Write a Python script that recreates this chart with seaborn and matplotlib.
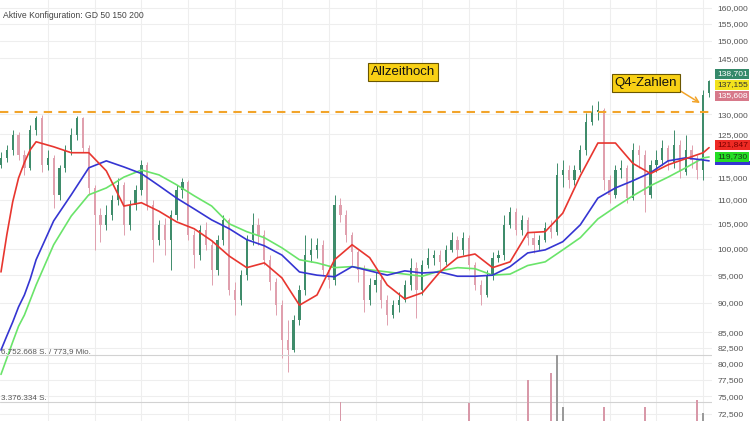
import matplotlib
matplotlib.use("Agg")
import matplotlib.pyplot as plt
import matplotlib.transforms as mtransforms
from matplotlib.patches import Rectangle
from matplotlib.ticker import FixedLocator, FuncFormatter, NullLocator
import seaborn as sns
import pandas as pd

# daily-ish candles, prices in thousand
open_ = [117.8, 119.4, 121.3, 124.9, 120.1, 117.1, 126.1, 129.1, 117.8, 119.4,
         111.1, 117.1, 121.3, 124.9, 129.1, 121.8, 112.6, 106.8, 104.8, 106.8,
         110.0, 113.3, 104.8, 108.9, 112.2, 117.8, 108.9, 101.8, 104.8, 101.8,
         106.8, 112.2, 114.0, 102.8, 98.8, 103.8, 100.8, 96.0, 101.8, 105.8,
         92.3, 90.5, 95.0, 101.8, 104.8, 102.8, 97.9, 93.8, 89.6, 83.7,
         82.1, 87.1, 92.3, 98.8, 99.8, 100.8, 96.0, 94.1, 108.9, 106.8,
         102.8, 99.4, 96.0, 90.5, 93.2, 94.1, 90.5, 87.9, 89.6, 90.5,
         93.2, 96.4, 92.3, 96.9, 98.3, 98.8, 97.5, 99.8, 101.8, 99.8,
         102.2, 96.9, 93.2, 91.4, 95.0, 98.3, 98.8, 104.8, 107.4, 103.8,
         105.8, 102.2, 100.8, 101.8, 104.2, 103.4, 115.5, 116.6, 114.4, 116.6,
         121.3, 128.1, 130.6, 131.1, 114.4, 111.1, 116.6, 117.1, 110.4, 121.3,
         120.1, 111.1, 117.8, 118.9, 121.8, 118.5, 122.5, 116.2, 121.3, 118.9,
         116.6, 135.6]
high = [120.8, 122.5, 126.1, 125.5, 121.3, 127.3, 129.6, 129.8, 121.3, 120.1,
        117.8, 122.5, 126.6, 129.6, 129.3, 122.5, 113.3, 108.3, 108.9, 111.1,
        114.8, 114.0, 110.0, 113.3, 118.9, 118.5, 110.0, 105.8, 106.2, 107.9,
        113.3, 114.8, 114.4, 103.8, 104.8, 105.4, 101.8, 102.8, 106.8, 106.2,
        93.8, 96.0, 102.8, 107.2, 106.2, 103.8, 98.8, 94.5, 90.5, 87.1,
        87.9, 93.2, 102.8, 102.2, 102.2, 101.8, 96.9, 111.1, 110.4, 107.9,
        103.4, 99.8, 96.9, 94.5, 95.6, 95.0, 91.4, 90.5, 91.9, 94.1,
        98.3, 97.5, 97.9, 100.2, 99.8, 99.8, 100.8, 103.4, 102.6, 103.4,
        102.8, 97.5, 94.1, 96.0, 99.4, 99.8, 106.8, 108.5, 108.3, 106.8,
        106.4, 103.4, 102.8, 105.4, 105.8, 118.1, 118.9, 117.8, 117.8, 122.5,
        130.3, 132.4, 133.4, 131.6, 115.5, 117.8, 118.9, 117.8, 122.9, 122.5,
        121.3, 118.9, 121.3, 123.6, 122.5, 126.1, 123.6, 124.9, 122.5, 120.1,
        136.3, 139.0]
low = [117.1, 118.5, 120.1, 118.9, 115.5, 116.6, 124.9, 116.2, 116.6, 108.3,
       110.0, 116.2, 120.1, 123.6, 120.8, 111.1, 99.8, 101.4, 103.8, 105.8,
       108.9, 102.8, 103.8, 107.9, 111.1, 107.9, 97.5, 100.8, 98.8, 96.0,
       105.8, 110.4, 101.8, 96.4, 97.9, 99.8, 93.2, 95.0, 100.8, 91.4,
       87.9, 89.6, 94.1, 100.8, 100.8, 96.9, 92.3, 87.9, 80.8, 78.6,
       81.8, 86.2, 91.4, 97.5, 98.3, 95.0, 92.7, 93.2, 105.4, 101.4,
       96.9, 93.8, 88.4, 89.6, 91.9, 89.1, 86.2, 87.4, 88.4, 90.1,
       92.3, 87.4, 91.4, 96.4, 96.9, 96.0, 96.9, 99.4, 98.3, 98.8,
       96.0, 92.3, 89.6, 91.0, 94.1, 97.5, 97.9, 104.2, 102.8, 102.8,
       100.8, 99.2, 99.8, 101.4, 102.2, 102.8, 112.8, 112.6, 113.3, 116.2,
       120.1, 127.3, 128.6, 112.2, 109.4, 110.4, 114.8, 109.4, 110.0, 117.1,
       107.4, 110.4, 116.2, 117.8, 116.6, 117.1, 114.8, 115.5, 117.1, 114.6,
       114.4, 134.5]
close = [119.4, 121.3, 124.9, 120.1, 117.1, 126.1, 129.1, 117.8, 119.4, 111.1,
         117.1, 121.3, 124.9, 129.1, 121.8, 112.6, 106.8, 104.8, 106.8, 110.0,
         113.3, 104.8, 108.9, 112.2, 117.8, 108.9, 101.8, 104.8, 101.8, 106.8,
         112.2, 114.0, 102.8, 98.8, 103.8, 100.8, 96.0, 101.8, 105.8, 92.3,
         90.5, 95.0, 101.8, 104.8, 102.8, 97.9, 93.8, 89.6, 83.7, 82.1,
         87.1, 92.3, 98.8, 99.8, 100.8, 96.0, 94.1, 108.9, 106.8, 102.8,
         99.4, 96.0, 90.5, 93.2, 94.1, 90.5, 87.9, 89.6, 90.5, 93.2,
         96.4, 92.3, 96.9, 98.3, 98.8, 97.5, 99.8, 101.8, 99.8, 102.2,
         96.9, 93.2, 91.4, 95.0, 98.3, 98.8, 104.8, 107.4, 103.8, 105.8,
         102.2, 100.8, 101.8, 104.2, 103.4, 115.5, 116.6, 114.4, 116.6, 121.3,
         128.1, 130.6, 131.1, 114.4, 111.1, 116.6, 117.1, 110.4, 121.3, 120.1,
         111.1, 117.8, 118.9, 121.8, 118.5, 122.5, 116.2, 121.3, 118.9, 116.6,
         135.0, 138.7]

# moving averages (GD 50 / 150 / 200) at these candles
ma_idx = [0, 1, 2, 3, 4, 5, 6] + list(range(9, 121, 3)) + [121]
gd50 = [95.6, 102.8, 109.6, 114.8, 118.3, 121.3, 123.2,
        122.0, 120.6, 120.6, 116.4, 108.7, 109.4, 107.6,
        105.4, 104.0, 101.6, 98.6, 96.4, 97.3, 94.5, 89.6, 91.4, 97.9,
        100.8, 98.3, 93.2, 90.7, 91.8, 95.6, 98.3, 99.0, 96.4, 97.5,
        103.2, 103.4, 107.2, 115.3, 122.9, 122.9, 118.1, 115.8, 117.8, 119.2,
        120.6, 121.8]
gd150 = [82.1, 84.4, 86.7, 89.3, 91.4, 94.3, 97.9,
         105.6, 111.1, 117.1, 118.7, 117.3, 115.8, 113.1,
         110.4, 108.1, 105.8, 104.0, 101.8, 100.6, 98.8, 95.6, 95.0, 94.7,
         96.6, 95.8, 95.0, 95.8, 95.4, 95.6, 94.8, 94.8, 95.0, 96.6,
         99.2, 99.8, 101.4, 104.8, 110.4, 112.6, 114.2, 116.0, 118.7, 119.4,
         118.9, 118.7]
gd200 = [78.3, 80.8, 83.4, 86.0, 87.9, 90.5, 93.2,
         100.8, 106.6, 111.1, 112.6, 115.0, 116.6, 115.5,
         113.3, 110.9, 108.7, 105.0, 103.4, 102.2, 100.2, 97.9, 97.3, 96.4,
         96.6, 96.0, 95.6, 95.2, 94.8, 95.8, 96.4, 96.2, 95.0, 95.2,
         96.8, 97.5, 99.8, 102.2, 106.0, 108.5, 110.9, 113.1, 115.0, 117.1,
         119.4, 119.6]

# volume (mio. shares), only the spikes that reach into the view
vol_idx = [58, 80, 90, 94, 95, 96, 103, 110, 119, 120]
vol_mio = [3.4, 3.3, 4.95, 5.45, 6.75, 3.0, 3.0, 3.0, 3.5, 2.6]
vol_lines = [6.752668, 3.376334]
vol_line_labels = ["6.752.668 S. / 773,9 Mio.", "3.376.334 S."]

ath_level = 130.5
price_ticks = [72.5, 75, 77.5, 80, 82.5, 85, 90, 95, 100, 105, 110, 115,
               125, 130, 145, 150, 155, 160]

# right-hand value boxes: text, face colour, text colour
value_boxes = [("138,701", "#35896a", "white"),
               ("137,155", "#f2e21c", "#333333"),
               ("135,608", "#d7798a", "white"),
               ("121,847", "#ee2a24", "#7a0000"),
               ("119,730", "#25dd25", "#1a3a1a")]
box_rows = [74, 85, 96, 145, 157]  # pixel rows from top

UP = "#3f8c6b"
DOWN = "#e0a0ae"
RED = "#e8362f"
BLUE = "#3535d2"
GREEN = "#6ae46a"
ORANGE = "#f2a42a"

sns.set_theme(style="white")
plt.rcParams['font.family'] = ['Liberation Sans', 'DejaVu Sans']

df = pd.DataFrame({'open': open_, 'high': high, 'low': low, 'close': close})
df['idx'] = range(len(df))
df['up'] = df['close'] >= df['open']
colors = df['up'].map({True: UP, False: DOWN})

W, H = 750, 421
fig = plt.figure(figsize=(W / 100, H / 100), dpi=100)
ax = fig.add_axes([0, 0, 712 / W, 1])
axv = ax.twinx()
ax.set_yscale('log')

# candles
ax.vlines(df['idx'], df['low'], df['high'], colors=colors, lw=0.7, zorder=3)
body_bottom = df[['open', 'close']].min(axis=1)
body_h = (df['close'] - df['open']).abs().clip(lower=0.2)
ax.bar(df['idx'], body_h, bottom=body_bottom, width=0.38, color=colors, lw=0, zorder=3)

# moving averages
ma = pd.DataFrame({'idx': ma_idx, 'GD 50': gd50, 'GD 150': gd150, 'GD 200': gd200})
for col, c in [('GD 200', GREEN), ('GD 150', BLUE), ('GD 50', RED)]:
    sns.lineplot(data=ma, x='idx', y=col, color=c, lw=1.2, ax=ax, zorder=4)

ax.axhline(ath_level, color=ORANGE, lw=1.5, ls=(0, (4, 3)), zorder=5)

ax.set_xlim(-0.17, 121.5)
ax.set_ylim(71.5, 162.4)
ax.yaxis.set_major_locator(FixedLocator(price_ticks))
ax.yaxis.set_minor_locator(NullLocator())
ax.yaxis.set_major_formatter(FuncFormatter(lambda v, p: f"{v * 1000:,.0f}"))
ax.yaxis.tick_right()
ax.tick_params(axis='y', length=0, pad=4, labelsize=6.1, labelcolor='#555555')
ax.set_xticks(range(8, 121, 8))
ax.tick_params(axis='x', length=0, labelbottom=False)
ax.grid(True, color='#eeeeee', lw=0.8)
ax.set_axisbelow(True)
ax.set_xlabel('')
ax.set_ylabel('')
for s in ax.spines.values():
    s.set_visible(False)

# volume panel overlay
vol_colors = ['#9a9a9a' if df['up'][i] else '#d898a8' for i in vol_idx]
axv.bar(vol_idx, vol_mio, width=0.3, color=vol_colors, lw=0, zorder=2)
axv.set_ylim(2.01, 32.26)
axv.set_yticks([])
for s in axv.spines.values():
    s.set_visible(False)
trans = mtransforms.blended_transform_factory(axv.transAxes, axv.transData)
for v, lab in zip(vol_lines, vol_line_labels):
    axv.axhline(v, color='#d2d2d2', lw=0.8, zorder=1)
    axv.text(1 / 712, v, lab, transform=trans, ha='left', va='bottom',
             fontsize=5.8, color='#555555')

axv.text(3 / 712, 1 - 15 / H, "Aktive Konfiguration: GD 50 150 200",
         transform=axv.transAxes, ha='left', va='center', fontsize=6.2, color='#444444')

box_style = dict(boxstyle='square,pad=0.2', fc='#f8d015', ec='#6a5600', lw=0.8)
axv.text(403 / 712, 1 - 72 / H, "Allzeithoch", transform=axv.transAxes,
         ha='center', va='center', fontsize=9.5, color='#111111', bbox=box_style)
axv.annotate("Q4-Zahlen", xy=(700 / 712, 1 - 103 / H), xycoords='axes fraction',
             xytext=(646 / 712, 1 - 83 / H), textcoords='axes fraction',
             ha='center', va='center', fontsize=9.5, color='#111111', bbox=box_style,
             arrowprops=dict(arrowstyle='->', color=ORANGE, lw=1.1,
                             relpos=(1, 0), shrinkA=0, shrinkB=0))

# GD 150 value tag, almost hidden behind the GD 200 tag
fig.patches.append(Rectangle((715 / W, 1 - 165 / H), 35 / W, 4 / H,
                             transform=fig.transFigure, fc=BLUE, ec='none'))
for (txt, fc, tc), row in zip(value_boxes, box_rows):
    fig.text(717 / W, 1 - row / H, txt, ha='left', va='center', fontsize=6.1,
             color=tc, bbox=dict(boxstyle='square,pad=0.2', fc=fc, ec='none'))

fig.savefig("out.png", dpi=100, facecolor='white')
